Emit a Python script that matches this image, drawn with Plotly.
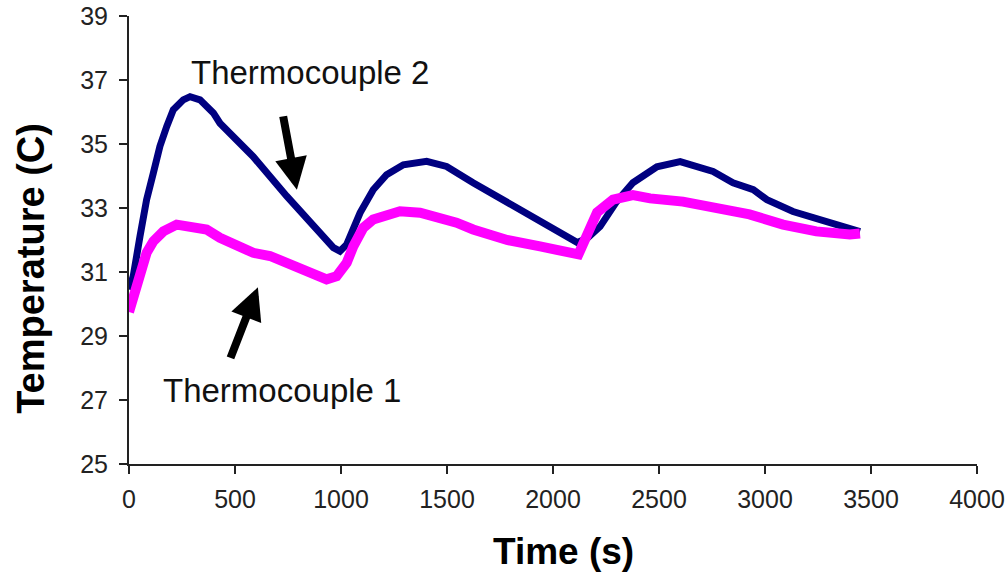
import plotly.graph_objects as go

# Thermocouple 2 (navy)
t2_time = [0, 20, 52, 83, 115, 146, 178, 209, 256, 288, 335, 398, 429, 585, 744, 901,
           964, 995, 1027, 1090, 1152, 1215, 1294, 1404, 1498, 1623, 1783, 1939, 2094,
           2115, 2160, 2222, 2300, 2377, 2490, 2600, 2755, 2849, 2945, 3009, 3132, 3259, 3448]
t2_temp = [30.45, 30.87, 32.12, 33.26, 34.1, 34.93, 35.55, 36.07, 36.38, 36.48, 36.38, 35.97,
           35.65, 34.61, 33.37, 32.22, 31.76, 31.65, 31.86, 32.85, 33.57, 34.04, 34.35, 34.46,
           34.3, 33.79, 33.17, 32.55, 31.95, 31.92, 32.05, 32.42, 33.2, 33.79, 34.29, 34.45,
           34.14, 33.79, 33.57, 33.26, 32.89, 32.64, 32.26]

# Thermocouple 1 (magenta)
t1_time = [0, 20, 52, 83, 115, 162, 225, 303, 366, 429, 508, 586, 665, 744, 838, 932, 979,
           1027, 1058, 1105, 1152, 1215, 1278, 1373, 1451, 1545, 1623, 1783, 1939, 2094, 2120,
           2208, 2283, 2377, 2458, 2613, 2770, 2927, 3085, 3242, 3400, 3448]
t1_temp = [29.75, 30.14, 30.98, 31.6, 31.96, 32.27, 32.48, 32.43, 32.33, 32.07, 31.86, 31.6,
           31.5, 31.29, 31.03, 30.77, 30.87, 31.29, 31.8, 32.38, 32.64, 32.8, 32.9, 32.85, 32.74,
           32.54, 32.33, 32.0, 31.8, 31.6, 31.55, 32.86, 33.26, 33.4, 33.3, 33.2, 33.0, 32.8,
           32.48, 32.27, 32.17, 32.2]

x_ticks = [0, 500, 1000, 1500, 2000, 2500, 3000, 3500, 4000]
y_ticks = [25, 27, 29, 31, 33, 35, 37, 39]

font = "Liberation Sans, Arial, sans-serif"

fig = go.Figure()
fig.add_trace(go.Scatter(x=t2_time, y=t2_temp, mode="lines",
                         line=dict(color="#000080", width=7), name="Thermocouple 2"))
fig.add_trace(go.Scatter(x=t1_time, y=t1_temp, mode="lines",
                         line=dict(color="#ff00ff", width=10), name="Thermocouple 1"))

# labels
fig.add_annotation(x=283, y=37.25, text="Thermocouple 2", showarrow=False,
                   xanchor="left", yanchor="middle", font=dict(family=font, size=33, color="#111"))
fig.add_annotation(x=150, y=27.3, text="Thermocouple 1", showarrow=False,
                   xanchor="left", yanchor="middle", font=dict(family=font, size=33, color="#111"))

# arrows
fig.add_annotation(x=792, y=33.57, ax=726, ay=35.91, axref="x", ayref="y", text="",
                   showarrow=True, arrowhead=2, arrowsize=0.8, arrowwidth=8, arrowcolor="black")
fig.add_annotation(x=608, y=30.52, ax=476, ay=28.27, axref="x", ayref="y", text="",
                   showarrow=True, arrowhead=2, arrowsize=0.8, arrowwidth=8, arrowcolor="black")

# axis titles (placed as annotations, like the original they sit a bit off centre)
fig.add_annotation(x=2050, xref="x", y=0, yref="paper", yshift=-87, yanchor="middle",
                   text="<b>Time (s)</b>", showarrow=False,
                   font=dict(size=37, family=font, color="black"))
fig.add_annotation(x=0, xref="paper", xshift=-98, xanchor="center", y=31.1, yref="y",
                   text="<b>Temperature (C)</b>", textangle=-90, showarrow=False,
                   font=dict(size=38, family=font, color="black"))

fig.update_layout(
    width=1008, height=575,
    margin=dict(l=129, r=31, t=16, b=111, autoexpand=False),
    paper_bgcolor="white", plot_bgcolor="white",
    showlegend=False,
    font=dict(family=font, color="#222"),
)
fig.update_xaxes(range=[0, 4000], tickvals=x_ticks, showgrid=False, zeroline=False,
                 showline=True, linecolor="#222", linewidth=2, automargin=False,
                 ticks="outside", ticklen=8, tickwidth=2, tickcolor="#222",
                 tickfont=dict(size=25, family=font), ticklabelstandoff=4)
fig.update_yaxes(range=[25, 39], tickvals=y_ticks, showgrid=False, zeroline=False,
                 showline=True, linecolor="#222", linewidth=2, automargin=False,
                 ticks="outside", ticklen=8, tickwidth=2, tickcolor="#222",
                 tickfont=dict(size=25, family=font), ticklabelstandoff=6)

# drop the default body margin so the figure fills the window exactly
fig.write_html("out.html", config={"displayModeBar": False},
               post_script="document.body.style.margin='0';")
